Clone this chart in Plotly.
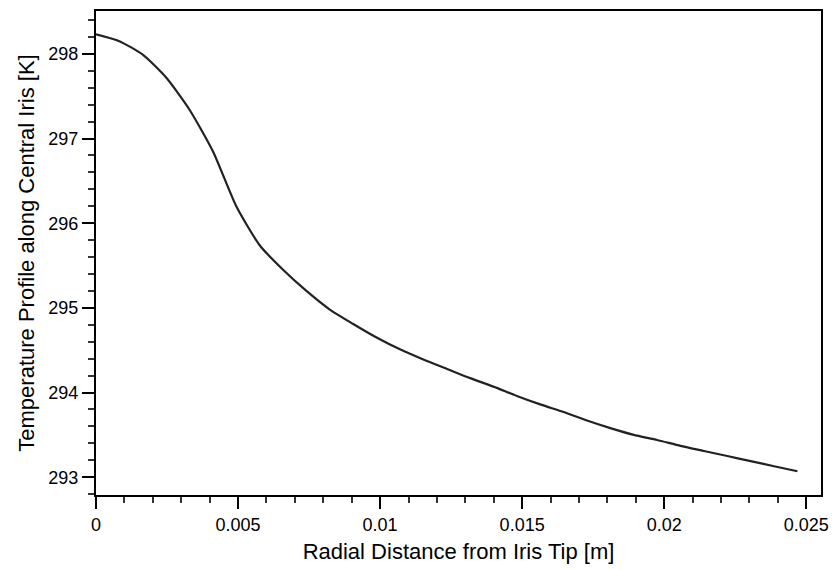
import plotly.graph_objects as go

# Radial distance from iris tip [m]
radial_distance = [0.0, 0.000823, 0.001646, 0.002469, 0.003292, 0.004115, 0.004938,
                   0.005761, 0.006584, 0.007407, 0.00823, 0.009053, 0.009876, 0.010699,
                   0.011522, 0.012345, 0.013168, 0.013991, 0.014814, 0.015637, 0.01646,
                   0.017283, 0.018106, 0.018929, 0.019752, 0.020575, 0.021398, 0.022221,
                   0.023044, 0.023867, 0.02469]
# Temperature [K]
temperature = [298.23, 298.15, 297.99, 297.72, 297.34, 296.85, 296.20,
               295.74, 295.45, 295.20, 294.98, 294.81, 294.65, 294.51,
               294.39, 294.28, 294.17, 294.07, 293.96, 293.86, 293.77,
               293.67, 293.58, 293.50, 293.44, 293.37, 293.31, 293.25,
               293.19, 293.13, 293.07]

x_ticks = [0, 0.005, 0.01, 0.015, 0.02, 0.025]
x_tick_labels = ["0", "0.005", "0.01", "0.015", "0.02", "0.025"]
y_ticks = [293, 294, 295, 296, 297, 298]
y_tick_labels = ["293", "294", "295", "296", "297", "298"]

fig = go.Figure()
fig.add_trace(go.Scatter(x=radial_distance, y=temperature, mode="lines",
                         line=dict(color="#222222", width=2.2, shape="spline", smoothing=0.6),
                         showlegend=False))

font = dict(family="Liberation Sans, Arial, Helvetica, sans-serif", color="black")

fig.update_layout(
    width=838, height=570,
    margin=dict(l=96, r=12, t=9, b=75),
    paper_bgcolor="white", plot_bgcolor="white",
    font=dict(**font, size=18),
    xaxis=dict(
        range=[0, 0.02552],
        tickmode="array", tickvals=x_ticks, ticktext=x_tick_labels,
        ticks="outside", ticklen=12, tickwidth=2, tickcolor="black",
        minor=dict(dtick=0.001, tick0=0, ticks="outside", ticklen=6, tickwidth=1.5, tickcolor="#333"),
        showline=True, linecolor="black", linewidth=2, mirror=True,
        showgrid=False, zeroline=False,
        tickfont=dict(size=18),
        title=dict(text="Radial Distance from Iris Tip [m]", font=dict(size=22), standoff=10),
    ),
    yaxis=dict(
        range=[292.79, 298.506],
        tickmode="array", tickvals=y_ticks, ticktext=y_tick_labels,
        ticks="outside", ticklen=12, tickwidth=2, tickcolor="black",
        minor=dict(dtick=0.2, tick0=293, ticks="outside", ticklen=6, tickwidth=1.5, tickcolor="#333"),
        showline=True, linecolor="black", linewidth=2, mirror=True,
        showgrid=False, zeroline=False,
        tickfont=dict(size=18),
        title=dict(text="Temperature Profile along Central Iris [K]", font=dict(size=22), standoff=8),
    ),
)

fig.write_html("out.html")
